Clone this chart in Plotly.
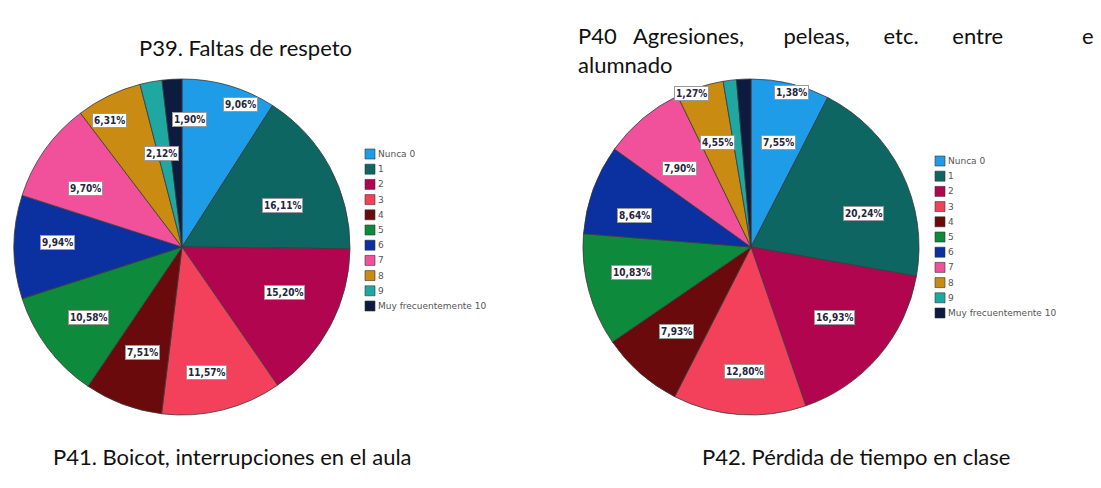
import math
import plotly.graph_objects as go

# ---- data -------------------------------------------------------------
categories = ["Nunca 0", "1", "2", "3", "4", "5", "6", "7", "8", "9",
              "Muy frecuentemente 10"]
p39_values = [9.06, 16.11, 15.20, 11.57, 7.51, 10.58, 9.94, 9.70, 6.31, 2.12, 1.90]
p40_values = [7.55, 20.24, 16.93, 12.80, 7.93, 10.83, 8.64, 7.90, 4.55, 1.27, 1.38]

title_p39 = "P39. Faltas de respeto"
title_p40_words = ["P40", "Agresiones,", "peleas,", "etc.", "entre", "e"]
title_p40_line2 = "alumnado"
caption_p41 = "P41. Boicot, interrupciones en el aula"
caption_p42 = "P42. Pérdida de tiempo en clase"

# ---- style ------------------------------------------------------------
W, H = 1101, 488
colors = ["#1f9ce8", "#0d6661", "#b1064f", "#f4415b", "#6b0a0c", "#0d8a3c",
          "#0b309f", "#f1509a", "#c98b12", "#1fa8a2", "#0c1b3f"]
FONT = "Lato, 'Noto Sans', sans-serif"

# pie geometry in pixels: centre x, centre y, radius
pies = [
    dict(values=p39_values, cx=182, cy=247, r=168,
         legend_x=365, legend_y=154,
         # label placement: fraction of radius, angular nudge in degrees
         lab_r=[0.92, 0.65, 0.67, 0.76, 0.67, 0.70, 0.74, 0.67, 0.87, 0.57, 0.76],
         lab_da=[6, 6, -4, 3, 0, 0, 2, -4, -4, -2, 7]),
    dict(values=p40_values, cx=751, cy=247, r=168,
         legend_x=935, legend_y=161,
         lab_r=[0.64, 0.70, 0.65, 0.74, 0.67, 0.73, 0.72, 0.63, 0.65, 0.98, 0.95],
         lab_da=[1, 10, 0, -1, 0, 3, -5, -2, 0, -14, 17]),
]
LEGEND_STEP = 15.2
SWATCH = 10


def px_x(x):
    return x / W


def px_y(y):
    return 1 - y / H


fig = go.Figure()
annotations = []
shapes = []

for p in pies:
    fig.add_trace(go.Pie(
        labels=categories,
        values=p["values"],
        sort=False,
        direction="clockwise",
        rotation=0,
        textinfo="none",
        hoverinfo="label+percent",
        showlegend=False,
        marker=dict(colors=colors, line=dict(color="#3a3a3a", width=0.8)),
        domain=dict(x=[px_x(p["cx"] - p["r"]), px_x(p["cx"] + p["r"])],
                    y=[px_y(p["cy"] + p["r"]), px_y(p["cy"] - p["r"])]),
    ))

    # percentage labels in white boxes at each slice's mid-angle
    total = sum(p["values"])
    cum = 0.0
    for i, v in enumerate(p["values"]):
        mid = (cum + v / 2) / total * 360 + p["lab_da"][i]
        cum += v
        rr = p["lab_r"][i] * p["r"]
        x = p["cx"] + rr * math.sin(math.radians(mid))
        y = p["cy"] - rr * math.cos(math.radians(mid))
        annotations.append(dict(
            x=px_x(x), y=px_y(y), xref="paper", yref="paper",
            xanchor="center", yanchor="middle",
            text="<b>" + f"{v:.2f}%".replace(".", ",") + "</b>",
            showarrow=False,
            font=dict(family="DejaVu Sans Condensed, DejaVu Sans", size=10,
                      color="#26263c"),
            bgcolor="white", bordercolor="#9a9a9a", borderwidth=1, borderpad=1,
        ))

    # legend: swatch + category name
    for i, name in enumerate(categories):
        yc = p["legend_y"] + i * LEGEND_STEP
        shapes.append(dict(
            type="rect", xref="paper", yref="paper",
            x0=px_x(p["legend_x"]), x1=px_x(p["legend_x"] + SWATCH),
            y0=px_y(yc + SWATCH / 2), y1=px_y(yc - SWATCH / 2),
            fillcolor=colors[i], line=dict(color="#333333", width=0.6),
        ))
        annotations.append(dict(
            x=px_x(p["legend_x"] + SWATCH + 1), y=px_y(yc), xref="paper", yref="paper",
            xanchor="left", yanchor="middle", text=name, showarrow=False,
            font=dict(family="DejaVu Sans", size=9, color="#555555"),
        ))

# titles and captions
TXT = dict(family=FONT, size=22, color="#111111")


def text_at(txt, x, y, anchor="center", yanchor="middle"):
    annotations.append(dict(x=px_x(x), y=px_y(y), xref="paper", yref="paper",
                            xanchor=anchor, yanchor=yanchor, text=txt, align="left",
                            showarrow=False, font=TXT))


text_at(title_p39, 245, 47)

# two-line P40 title; the first line is spread out like justified text
gaps = [3, 7, 6, 6, 14]
line1 = title_p40_words[0]
for g, w in zip(gaps, title_p40_words[1:]):
    line1 += "&nbsp;" * g + w
text_at(line1 + "<br>" + title_p40_line2, 576, 50, "left")

text_at(caption_p41, 232, 456)
text_at(caption_p42, 856, 456)

fig.update_layout(
    width=W, height=H, autosize=False,
    margin=dict(l=0, r=0, t=0, b=0),
    paper_bgcolor="white", plot_bgcolor="white",
    annotations=annotations, shapes=shapes,
)

fig.write_html("out.html")
